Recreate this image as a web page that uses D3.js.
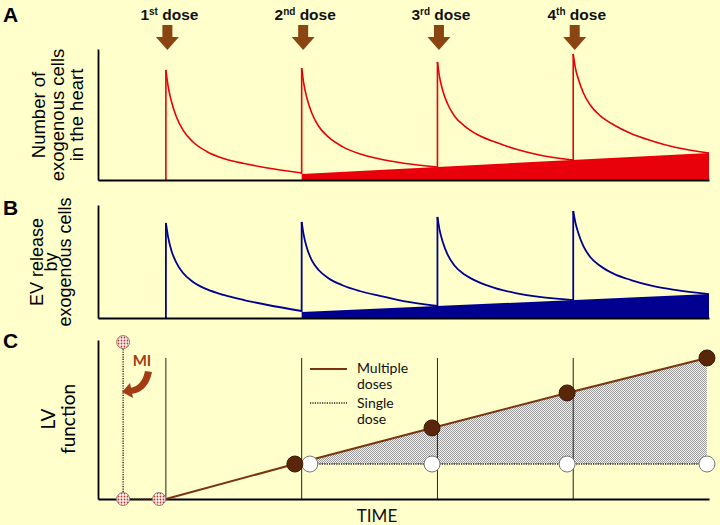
<!DOCTYPE html>
<html><head><meta charset="utf-8">
<script src="https://cdn.jsdelivr.net/npm/d3@7"></script>
<style>html,body{margin:0;padding:0;background:#FFFFCC;} svg{display:block}</style>
</head><body><svg id="c" width="720" height="525"></svg>
<script>
// ---------- data ----------
const doseTimes = [1, 3, 5, 7];
const doseNumbers = ["1", "2", "3", "4"];
const doseSuffixes = ["st", "nd", "rd", "th"];
const timeDomain = [0, 9];
const decayOffsets = [0, 0.03, 0.08, 0.15, 0.25, 0.4, 0.6, 0.85, 1.15, 1.5, 2.0];

// Panel A: number of exogenous cells (relative units 0-100)
const cellsDose1 = [84.0, 72.5, 60.3, 48.9, 38.2, 29.0, 21.8, 16.4, 12.6, 9.2, 5.3];
const cellsDose2 = [85.5, 74.0, 62.0, 51.0, 41.0, 32.5, 25.5, 20.0, 16.0, 12.8, 9.9];
const cellsDose3 = [90.1, 79.0, 68.0, 58.0, 48.9, 41.2, 34.4, 29.0, 23.7, 19.1, 15.3];
const cellsDose4 = [96.2, 86.0, 76.3, 66.4, 57.3, 48.9, 42.0, 35.5, 30.0, 25.0, 20.6];
const cellsFloorTimes = [3, 9];
const cellsFloorValues = [4.6, 20.6];

// Panel B: EV release (relative units 0-100)
const evDose1 = [84.1, 72.5, 60.0, 49.5, 40.0, 31.9, 25.5, 20.4, 15.9, 11.5, 6.2];
const evDose2 = [85.0, 73.5, 61.5, 51.0, 42.5, 35.0, 29.0, 23.9, 19.5, 15.0, 10.6];
const evDose3 = [89.4, 78.5, 67.0, 56.0, 46.5, 38.5, 32.0, 26.5, 22.1, 18.6, 15.9];
const evDose4 = [94.7, 85.0, 74.3, 63.5, 54.0, 46.0, 39.0, 33.6, 28.6, 24.8, 21.2];
const evFloorTimes = [3, 9];
const evFloorValues = [5.3, 21.2];

// Panel C: LV function
const miTimes = [0.37, 0.37, 0.9];
const miValues = [98.7, 0, 0];
const lvStartTime = 1, lvStartValue = 0;
const multiTimes = [2.9, 4.92, 6.91, 8.97];
const multiValues = [22.0, 44.7, 66.7, 88.7];
const singleTimes = [3.12, 4.92, 6.91, 8.97];
const singleValues = [22.0, 22.0, 22.0, 22.0];
const guideTop = 88.7;
const legendLabels = [["Multiple", "doses"], ["Single", "dose"]];

// ---------- drawing ----------
const ARIAL = "'Liberation Sans', Arial, sans-serif";
const CAL = "Lato, 'Open Sans', sans-serif";
const svg = d3.select("#c");
svg.append("rect").attr("width", 720).attr("height", 525).attr("fill", "#FFFFCC");

const defs = svg.append("defs");
const stip = defs.append("pattern").attr("id", "stip").attr("width", 2).attr("height", 2)
  .attr("patternUnits", "userSpaceOnUse");
stip.append("rect").attr("width", 2).attr("height", 2).attr("fill", "#f4f4f4");
stip.append("rect").attr("width", 1).attr("height", 1).attr("fill", "#999");
stip.append("rect").attr("x", 1).attr("y", 1).attr("width", 1).attr("height", 1).attr("fill", "#999");
const dots = defs.append("pattern").attr("id", "redDots").attr("width", 3).attr("height", 3)
  .attr("patternUnits", "userSpaceOnUse");
dots.append("rect").attr("width", 3).attr("height", 3).attr("fill", "#fff4f0");
dots.append("circle").attr("cx", 1.5).attr("cy", 1.5).attr("r", 0.9).attr("fill", "#c0362c");

const x = d3.scaleLinear(timeDomain, [98, 709]);
const yA = d3.scaleLinear([0, 100], [180, 49]);
const yB = d3.scaleLinear([0, 100], [318, 205]);
const yC = d3.scaleLinear([0, 100], [499, 340]);

function axes(y) {
  const g = svg.append("g");
  g.append("g").attr("transform", `translate(0,${y(0)})`)
    .call(d3.axisBottom(x).tickValues([]).tickSizeOuter(0));
  g.append("g").attr("transform", `translate(${x(0)},0)`)
    .call(d3.axisLeft(y).tickValues([]).tickSizeOuter(0));
  g.selectAll(".domain").attr("stroke", "#000").attr("stroke-width", 1.8);
}

function decayPanel(y, doses, floorT, floorV, color, sw) {
  const floor = d3.scaleLinear(floorT, floorV);
  const wedge = floorT.map((t, i) => ({t, v: floorV[i]}));
  svg.append("path").datum(wedge)
    .attr("d", d3.area().x(d => x(d.t)).y0(y(0)).y1(d => y(d.v)))
    .attr("fill", color);
  doses.forEach((vals, i) => {
    const t0 = doseTimes[i];
    const base = i === 0 ? 0 : floor(t0);
    svg.append("path").datum([{t: t0, v: base}, {t: t0, v: vals[0]}])
      .attr("d", d3.line().x(d => x(d.t)).y(d => y(d.v)))
      .attr("stroke", color).attr("stroke-width", sw).attr("fill", "none");
    const pts = decayOffsets.map((o, k) => ({t: t0 + o, v: vals[k]}));
    svg.append("path").datum(pts)
      .attr("d", d3.line().x(d => x(d.t)).y(d => y(d.v)).curve(d3.curveMonotoneX))
      .attr("stroke", color).attr("stroke-width", sw).attr("fill", "none");
  });
  axes(y);
}

decayPanel(yA, [cellsDose1, cellsDose2, cellsDose3, cellsDose4], cellsFloorTimes, cellsFloorValues, "#e8000a", 1.6);
decayPanel(yB, [evDose1, evDose2, evDose3, evDose4], evFloorTimes, evFloorValues, "#000090", 1.8);

// dose labels and arrows
doseTimes.forEach((t, i) => {
  const cx = x(t) + 1.5;
  const txt = svg.append("text").attr("x", cx + 2).attr("y", 20).attr("text-anchor", "middle")
    .attr("font-family", ARIAL).attr("font-weight", "bold")
    .attr("font-size", 15.5).attr("fill", "#111");
  txt.append("tspan").text(doseNumbers[i]);
  txt.append("tspan").attr("font-size", 10).attr("dy", -5.5).text(doseSuffixes[i]);
  txt.append("tspan").attr("dy", 5.5).text(" dose");
  svg.append("path")
    .attr("d", `M${cx - 5},25 L${cx + 5},25 L${cx + 5},37 L${cx + 11.5},37 L${cx},50 L${cx - 11.5},37 L${cx - 5},37 Z`)
    .attr("fill", "#8B4513");
});

// Panel letters
[["A", 22], ["B", 215], ["C", 348]].forEach(([l, yy]) => {
  svg.append("text").attr("x", 3).attr("y", yy).text(l)
    .attr("font-family", ARIAL).attr("font-weight", "bold")
    .attr("font-size", 21).attr("fill", "#000");
});

// Y labels
function ylabel(lines, xs, cy, font, size) {
  lines.forEach((s, i) => {
    svg.append("text").attr("transform", `translate(${xs[i]},${cy}) rotate(-90)`)
      .attr("text-anchor", "middle").attr("font-family", font).attr("font-size", size)
      .attr("fill", "#000").text(s);
  });
}
ylabel(["Number of", "exogenous cells", "in the heart"], [45, 64, 83], 115, ARIAL, 18.5);
ylabel(["EV release", "by", "exogenous cells"], [43, 57, 71], 262, ARIAL, 18);
ylabel(["LV", "function"], [55, 75], 419, CAL, 19);

// ---------- Panel C ----------
const fillData = multiTimes.map((t, i) => ({t, hi: multiValues[i], lo: singleValues[0]}));
svg.append("path").datum(fillData)
  .attr("d", d3.area().x(d => x(d.t)).y0(d => yC(d.lo)).y1(d => yC(d.hi)))
  .attr("fill", "url(#stip)");

doseTimes.forEach(t => {
  svg.append("line").attr("x1", x(t)).attr("x2", x(t)).attr("y1", yC(0)).attr("y2", yC(guideTop))
    .attr("stroke", "#222").attr("stroke-width", 1);
});

axes(yC);

const singlePts = singleTimes.map((t, i) => ({t, v: singleValues[i]}));
svg.append("path").datum(singlePts)
  .attr("d", d3.line().x(d => x(d.t)).y(d => yC(d.v)))
  .attr("stroke", "#222").attr("stroke-width", 1.5).attr("stroke-dasharray", "1.2,1.2").attr("fill", "none");

const multiPts = [{t: lvStartTime, v: lvStartValue}].concat(multiTimes.map((t, i) => ({t, v: multiValues[i]})));
svg.append("path").datum(multiPts)
  .attr("d", d3.line().x(d => x(d.t)).y(d => yC(d.v)))
  .attr("stroke", "#7a3510").attr("stroke-width", 2).attr("fill", "none");

const miPts = miTimes.map((t, i) => ({t, v: miValues[i]}));
svg.append("path").datum(miPts)
  .attr("d", d3.line().x(d => x(d.t)).y(d => yC(d.v)))
  .attr("stroke", "#4a3020").attr("stroke-width", 1.5).attr("stroke-dasharray", "1.2,1.2").attr("fill", "none");
svg.selectAll(".mi").data(miPts).enter().append("circle")
  .attr("cx", d => x(d.t)).attr("cy", d => yC(d.v)).attr("r", 6.5)
  .attr("fill", "url(#redDots)").attr("stroke", "#9a7a70").attr("stroke-width", 1);

svg.selectAll(".sp").data(singlePts).enter().append("circle")
  .attr("cx", d => x(d.t)).attr("cy", d => yC(d.v)).attr("r", 8)
  .attr("fill", "#fff").attr("stroke", "#777").attr("stroke-width", 1);
svg.selectAll(".mp").data(multiPts.slice(1)).enter().append("circle")
  .attr("cx", d => x(d.t)).attr("cy", d => yC(d.v)).attr("r", 8)
  .attr("fill", "#5a260a").attr("stroke", "#3a1805").attr("stroke-width", 1);

// MI label and curved arrow
svg.append("text").attr("x", 142).attr("y", 366).attr("text-anchor", "middle")
  .attr("font-family", CAL).attr("font-weight", "bold").attr("font-size", 15)
  .attr("fill", "#a33c14").text("MI");
svg.append("path").attr("d", "M145,371 L152,372 Q148,392 131,394 L130,388 Q142,386 145,371 Z")
  .attr("fill", "#a33c14");
svg.append("path").attr("d", "M130,383 L133,398 L122,392 Z").attr("fill", "#a33c14");

// legend
svg.append("line").attr("x1", 310).attr("x2", 347).attr("y1", 369).attr("y2", 369)
  .attr("stroke", "#7a3510").attr("stroke-width", 2);
svg.append("line").attr("x1", 310).attr("x2", 347).attr("y1", 403).attr("y2", 403)
  .attr("stroke", "#222").attr("stroke-width", 1.5).attr("stroke-dasharray", "1.2,1.2");
legendLabels.forEach((ls, i) => {
  ls.forEach((s, j) => {
    svg.append("text").attr("x", 357).attr("y", 373 + i * 35 + j * 16)
      .attr("font-family", CAL).attr("font-size", 14).attr("fill", "#111").text(s);
  });
});

svg.append("text").attr("x", 377).attr("y", 522).attr("text-anchor", "middle")
  .attr("font-family", CAL).attr("font-size", 17).attr("fill", "#111").text("TIME");
</script></body></html>
